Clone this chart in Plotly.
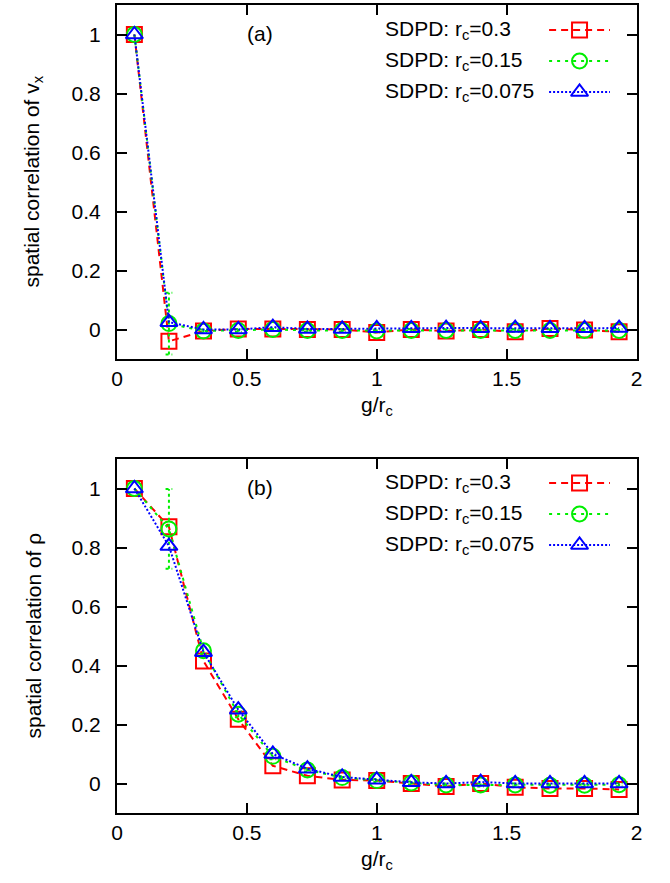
import plotly.graph_objects as go

# ---------------- data ----------------
g_over_rc = [0.067, 0.2, 0.333, 0.467, 0.6, 0.733, 0.867, 1.0, 1.133,
             1.267, 1.4, 1.533, 1.667, 1.8, 1.933]

# panel (a): spatial correlation of v_x
vx_rc03 = [1.0, -0.04, -0.005, 0.002, 0.002, 0.0, 0.0, -0.01, 0.0,
           -0.005, 0.0, -0.008, 0.003, -0.002, -0.008]
vx_rc015 = [1.0, 0.02, -0.005, -0.003, 0.0, -0.003, -0.003, -0.005, -0.003,
            -0.003, -0.003, -0.003, -0.003, -0.003, -0.003]
vx_rc0075 = [1.0, 0.025, 0.0, 0.0, 0.008, 0.002, 0.002, 0.004, 0.004,
             0.005, 0.004, 0.005, 0.004, 0.004, 0.005]
vx_rc015_err = [0.0, 0.105, 0.005, 0.005, 0.005, 0.005, 0.005, 0.005, 0.005,
                0.005, 0.005, 0.005, 0.005, 0.005, 0.005]

# panel (b): spatial correlation of rho
rho_rc03 = [1.0, 0.87, 0.415, 0.218, 0.06, 0.026, 0.012, 0.01, 0.0,
            -0.01, 0.0, -0.013, -0.017, -0.017, -0.02]
rho_rc015 = [1.0, 0.863, 0.45, 0.235, 0.092, 0.046, 0.02, 0.01, 0.002,
             -0.005, -0.005, -0.005, -0.006, -0.006, -0.004]
rho_rc0075 = [1.0, 0.805, 0.445, 0.25, 0.10, 0.05, 0.022, 0.013, 0.004,
              0.0, 0.005, 0.0, 0.0, 0.0, 0.0]
rho_rc015_err = [0.0, 0.135, 0.01, 0.01, 0.01, 0.005, 0.005, 0.005, 0.005,
                 0.005, 0.005, 0.005, 0.005, 0.005, 0.005]

series_names = ["SDPD: r<sub>c</sub>=0.3", "SDPD: r<sub>c</sub>=0.15",
                "SDPD: r<sub>c</sub>=0.075"]
x_ticks = [0, 0.5, 1, 1.5, 2]
x_ticktext = ["0", "0.5", "1", "1.5", "2"]
y_ticks = [0, 0.2, 0.4, 0.6, 0.8, 1.0]
y_ticktext = ["0", "0.2", "0.4", "0.6", "0.8", "1"]

# ---------------- styles ----------------
FONT = "Liberation Sans, Arial, Helvetica, sans-serif"
FS = 21
styles = [
    dict(color="#ff0000", dash="7px,5px", symbol="square-open"),
    dict(color="#00ee00", dash="3px,5px", symbol="circle-open"),
    dict(color="#0000ff", dash="2px,2px", symbol="triangle-up-open"),
]

W, H = 670, 883
XL, XR = 113, 642
panels = [(5, 359), (459, 813)]  # pixel top/bottom of each plot box

fig = go.Figure()


def add_err(xs, ys, es, xa, ya, color):
    ex, ey = [], []
    cap = 0.013
    for x, y, e in zip(xs, ys, es):
        if e <= 0:
            continue
        ex += [x, x, None, x - cap, x + cap, None, x - cap, x + cap, None]
        ey += [y - e, y + e, None, y - e, y - e, None, y + e, y + e, None]
    fig.add_trace(go.Scatter(x=ex, y=ey, mode="lines", xaxis=xa, yaxis=ya,
                             line=dict(color=color, width=2, dash="3px,3px"),
                             showlegend=False, hoverinfo="skip"))


data_sets = [
    ([vx_rc03, vx_rc015, vx_rc0075], vx_rc015_err, "x", "y"),
    ([rho_rc03, rho_rc015, rho_rc0075], rho_rc015_err, "x2", "y2"),
]

for ys_list, err, xa, ya in data_sets:
    for i, ys in enumerate(ys_list):
        st = styles[i]
        if i == 1:
            add_err(g_over_rc, ys, err, xa, ya, st["color"])
        fig.add_trace(go.Scatter(
            x=g_over_rc, y=ys, mode="lines+markers", xaxis=xa, yaxis=ya,
            name=series_names[i], showlegend=False,
            line=dict(color=st["color"], width=2, dash=st["dash"]),
            marker=dict(symbol=st["symbol"], size=15, color=st["color"],
                        line=dict(width=2, color=st["color"])),
        ))

# ---------------- custom legend (text left, key right) ----------------
legend_rows = [[30, 61, 92], [483, 514, 545]]
for rows in legend_rows:
    for i, yy in enumerate(rows):
        st = styles[i]
        fig.add_trace(go.Scatter(
            x=[553, 615], y=[yy, yy], mode="lines", xaxis="x3", yaxis="y3",
            line=dict(color=st["color"], width=2, dash=st["dash"]),
            showlegend=False, hoverinfo="skip"))
        fig.add_trace(go.Scatter(
            x=[584], y=[yy], mode="markers", xaxis="x3", yaxis="y3",
            marker=dict(symbol=st["symbol"], size=15, color=st["color"],
                        line=dict(width=2, color=st["color"])),
            showlegend=False, hoverinfo="skip"))
        fig.add_annotation(x=384 / W, y=1 - yy / H, xref="paper", yref="paper",
                           text=series_names[i], showarrow=False,
                           xanchor="left", yanchor="middle",
                           font=dict(size=FS, color="black", family=FONT))

# ---------------- axes ----------------
xdom = [XL / W, XR / W]
axis_common = dict(showline=True, linewidth=2, linecolor="black", mirror="ticks",
                   ticks="inside", ticklen=10, tickwidth=1.5, tickcolor="black",
                   showgrid=False, zeroline=False,
                   tickfont=dict(size=FS, color="black", family=FONT))

layout = dict(width=W, height=H, margin=dict(l=0, r=0, t=0, b=0),
              paper_bgcolor="white", plot_bgcolor="rgba(0,0,0,0)",
              showlegend=False,
              font=dict(family=FONT, size=FS, color="black"))

for k, (top, bot) in enumerate(panels):
    sx = "" if k == 0 else "2"
    ydom = [1 - bot / H, 1 - top / H]
    layout["xaxis" + sx] = dict(axis_common, domain=xdom, range=[0, 2],
                                tickvals=x_ticks, ticktext=x_ticktext,
                                anchor="y" + sx, ticklabelstandoff=0)
    layout["yaxis" + sx] = dict(axis_common, domain=ydom, range=[-0.1, 1.1],
                                tickvals=y_ticks, ticktext=y_ticktext,
                                anchor="x" + sx, ticklabelstandoff=10)

# full-figure pixel-coordinate axes for the legend keys
layout["xaxis3"] = dict(domain=[0, 1], range=[0, W], visible=False,
                        anchor="y3", fixedrange=True)
layout["yaxis3"] = dict(domain=[0, 1], range=[H, 0], visible=False,
                        anchor="x3", fixedrange=True)

fig.update_layout(**layout)

# titles and panel labels
ytitles = ["spatial correlation of v<sub>x</sub>", "spatial correlation of ρ"]
for k, (top, bot) in enumerate(panels):
    fig.add_annotation(x=27 / W, y=1 - (top + bot) / 2 / H, xref="paper",
                       yref="paper", text=ytitles[k], textangle=-90,
                       showarrow=False, xanchor="center", yanchor="middle",
                       font=dict(size=FS, color="black", family=FONT))
    fig.add_annotation(x=(XL + XR) / 2 / W, y=1 - (bot + 47) / H, xref="paper",
                       yref="paper", text="g/r<sub>c</sub>", showarrow=False,
                       xanchor="center", yanchor="middle",
                       font=dict(size=FS, color="black", family=FONT))
    fig.add_annotation(x=0.552, y=1.005, xref="x" + ("" if k == 0 else "2"),
                       yref="y" + ("" if k == 0 else "2"),
                       text="(a)" if k == 0 else "(b)", showarrow=False,
                       xanchor="center", yanchor="middle",
                       font=dict(size=FS, color="black", family=FONT))

fig.write_html("out.html")
